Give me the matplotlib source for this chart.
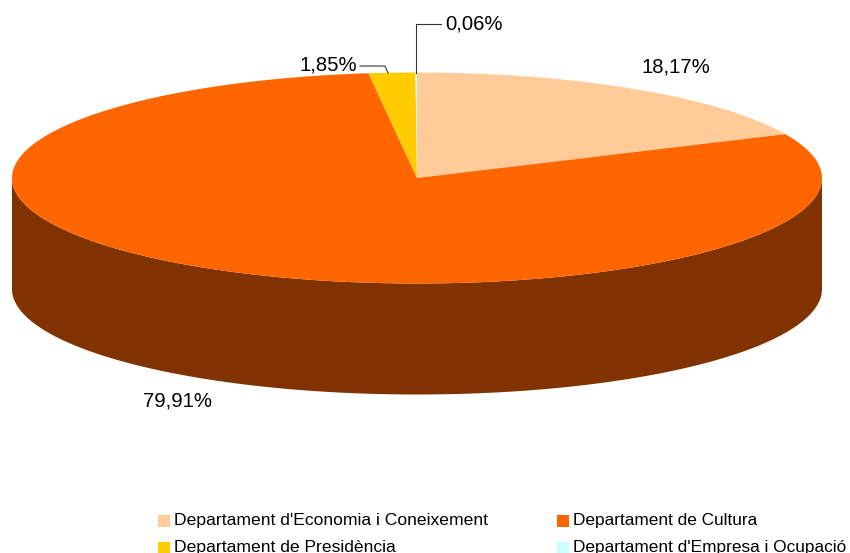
"""Pastis 3D per departaments"""
import numpy as np
import matplotlib
matplotlib.use('Agg')
import matplotlib.pyplot as plt
from matplotlib.patches import Polygon, Rectangle

plt.rcParams['font.family'] = ['Liberation Sans', 'DejaVu Sans']

departaments = ["Departament d'Economia i Coneixement", 'Departament de Cultura',
                'Departament de Presidència', "Departament d'Empresa i Ocupació"]
percentatges = [18.17, 79.91, 1.85, 0.06]
etiquetes = ['18,17%', '79,91%', '1,85%', '0,06%']
colors = ['#FFCC99', '#FF6600', '#FFCC00', '#CCFFFF']
colors_costat = ['#805533', '#803300', '#806600', '#668080']

# Geometria del pastis, en pixels de la figura
CX, CY = 417, 178
RX, RY = 405, 105.5
GRUIX = 111


def punts_arc(ini, fi, n=300):
    """Retorna x, y de l'arc; els angles van en sentit horari des de dalt."""
    t = np.radians(np.linspace(ini, fi, n))
    return CX + RX * np.sin(t), CY - RY * np.cos(t)


fig = plt.figure(figsize=(8.5, 5.53), dpi=100)
ax = fig.add_axes([0, 0, 1, 1])
ax.set_xlim(0, 850)
ax.set_ylim(553, 0)
ax.axis('off')

total = sum(percentatges)
limits = np.concatenate([[0], np.cumsum(percentatges) / total * 360])

# Costat del pastis: nomes es veu la meitat de davant (90 a 270 graus)
for i in range(len(percentatges)):
    ini, fi = max(limits[i], 90), min(limits[i + 1], 270)
    if ini >= fi:
        continue
    x, y = punts_arc(ini, fi)
    costat = np.column_stack([np.r_[x, x[::-1]], np.r_[y, y[::-1] + GRUIX]])
    ax.add_patch(Polygon(costat, closed=True, fc=colors_costat[i], ec='none'))

# Cara de dalt
for i in range(len(percentatges)):
    x, y = punts_arc(limits[i], limits[i + 1])
    cara = np.column_stack([np.r_[CX, x], np.r_[CY, y]])
    ax.add_patch(Polygon(cara, closed=True, fc=colors[i], ec='none'))

# Etiquetes i linies guia
ax.text(642, 67, etiquetes[0], fontsize=14.6, color='black', ha='left', va='center')
ax.text(143, 401, etiquetes[1], fontsize=14.6, color='black', ha='left', va='center')
ax.text(357, 65, etiquetes[2], fontsize=14.6, color='black', ha='right', va='center')
ax.text(445, 24, etiquetes[3], fontsize=14.6, color='black', ha='left', va='center')
ax.plot([360, 385, 388], [66, 66, 73], color='#333333', lw=0.8)
ax.plot([416.5, 416.5, 441], [73, 24, 24], color='#333333', lw=0.8)

# Llegenda
pos_llegenda = [(158, 525, 12.6), (557, 525, 12.4), (158, 552, 12.6), (557, 552, 12.4)]
for nom, color, (lx, ly, mida) in zip(departaments, colors, pos_llegenda):
    ax.add_patch(Rectangle((lx, ly - 10), 12, 12, fc=color, ec='none'))
    ax.text(lx + 16, ly, nom, fontsize=mida, color='black', ha='left', va='baseline')

fig.savefig('out.png', dpi=100, facecolor='white')
